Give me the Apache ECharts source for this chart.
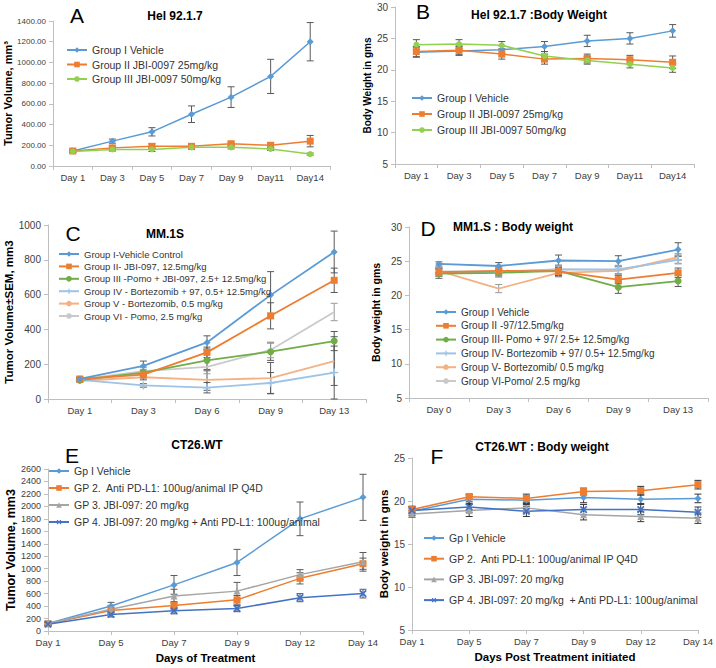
<!DOCTYPE html>
<html><head><meta charset="utf-8">
<script src="https://cdn.jsdelivr.net/npm/echarts@6/dist/echarts.min.js"></script>
<style>html,body{margin:0;padding:0;background:#fff}#c{width:716px;height:668px}</style>
</head><body><div id="c"></div>
<script>
// ---------- Panel A : Hel 92.1.7 tumor volume ----------
const daysA = ['Day 1','Day 3','Day 5','Day 7','Day 9','Day11','Day14'];
const namesA = ['Group I Vehicle','Group II JBI-0097 25mg/kg','Group III JBI-0097 50mg/kg'];
const a1 = [145,240,330,500,665,865,1200];
const a1e = [10,20,40,80,100,165,185];
const a2 = [145,175,190,190,215,200,240];
const a2e = [10,20,25,25,15,25,55];
const a3 = [140,160,160,180,180,165,115];
const a3e = [10,15,20,20,15,15,10];
// ---------- Panel B : Hel 92.1.7 body weight ----------
const daysB = ['Day 1','Day 3','Day 5','Day 7','Day 9','Day11','Day14'];
const b1 = [22.8,23.0,23.2,23.7,24.6,25.0,26.2];
const b1e = [0.8,0.7,0.6,0.8,0.9,0.9,1.0];
const b2 = [22.9,23.1,22.5,21.7,21.8,21.6,21.2];
const b2e = [0.8,0.7,0.8,0.8,0.7,0.7,1.0];
const b3 = [24.0,24.1,23.9,22.2,21.5,20.9,20.3];
const b3e = [0.8,0.7,0.6,0.7,0.6,0.6,0.7];
// ---------- Panel C : MM.1S tumor volume ----------
const daysC = ['Day 1','Day 3','Day 6','Day 9','Day 13'];
const namesC = ['Group I-Vehicle Control','Group II- JBI-097, 12.5mg/kg','Group III -Pomo + JBI-097, 2.5+ 12.5mg/kg','Group IV - Bortezomib + 97, 0.5+ 12.5mg/kg','Group V - Bortezomib, 0.5 mg/kg','Group VI - Pomo, 2.5 mg/kg'];
const c1 = [115,190,325,597,845];  const c1e = [10,28,38,135,120];
const c2 = [115,140,268,478,682];  const c2e = [10,20,30,75,70];
const c3 = [108,152,222,272,333];  const c3e = [8,15,60,50,55];
const c4 = [110,78,65,92,152];     const c4e = [8,10,30,60,152];
const c5 = [105,125,110,120,218];  const c5e = [8,15,60,90,140];
const c6 = [112,160,185,282,500];  const c6e = [8,20,40,45,50];
// ---------- Panel D : MM1.S body weight ----------
const daysD = ['Day 0','Day 3','Day 6','Day 9','Day 13'];
const namesD = ['Group I Vehicle','Group II -97/12.5mg/kg','Group III- Pomo + 97/ 2.5+ 12.5mg/kg','Group IV- Bortezomib + 97/ 0.5+ 12.5mg/kg','Group V- Bortezomib/ 0.5 mg/kg','Group VI-Pomo/ 2.5 mg/kg'];
const d1 = [24.6,24.3,25.1,25.0,26.7];  const d1e = [0.3,0.5,0.8,0.8,1.0];
const d2 = [23.4,23.6,23.5,22.3,23.3];  const d2e = [0.6,0.6,0.6,0.6,0.7];
const d3 = [23.2,23.3,23.6,21.2,22.1];  const d3e = [0.7,0.6,0.8,0.9,0.8];
const d4 = [23.3,23.4,23.8,23.8,25.2];  const d4e = [0.5,0.5,0.6,0.6,0.6];
const d5 = [23.6,21.0,23.3,23.6,25.6];  const d5e = [0.5,0.6,0.6,0.6,0.5];
const d6 = [23.5,23.5,23.8,23.7,25.3];  const d6e = [0.5,0.5,0.6,0.6,0.6];
// ---------- Panel E : CT26.WT tumor volume ----------
const daysE = ['Day 1','Day 5','Day 7','Day 9','Day 12','Day 14'];
const namesE = ['Gp I Vehicle','GP 2.  Anti PD-L1: 100ug/animal IP Q4D','GP 3. JBI-097: 20 mg/kg','GP 4. JBI-097: 20 mg/kg + Anti PD-L1: 100ug/animal'];
const e1 = [120,400,740,1100,1800,2145];  const e1e = [30,60,150,210,270,370];
const e2 = [115,330,410,500,845,1080];    const e2e = [20,50,60,70,90,90];
const e3 = [120,350,560,640,905,1110];    const e3e = [20,60,110,140,80,150];
const e4 = [110,265,325,360,535,600];     const e4e = [20,40,50,50,65,70];
// ---------- Panel F : CT26.WT body weight ----------
const daysF = ['Day 1','Day 5','Day 7','Day 9','Day 12','Day 14'];
const namesF = ['Gp I Vehicle ','GP 2.  Anti PD-L1: 100ug/animal IP Q4D ','GP 3. JBI-097: 20 mg/kg ','GP 4. JBI-097: 20 mg/kg  + Anti PD-L1: 100ug/animal'];
const f1 = [18.8,20.2,20.1,20.4,20.2,20.3];  const f1e = [0.5,0.5,0.5,0.6,0.5,0.5];
const f2 = [19.0,20.5,20.3,21.1,21.2,21.9];  const f2e = [0.4,0.3,0.5,0.4,0.5,0.5];
const f3 = [18.5,18.9,19.2,18.4,18.2,18.0];  const f3e = [0.4,0.7,0.5,0.6,0.6,0.6];
const f4 = [18.9,19.3,18.8,19.0,19.0,18.7];  const f4e = [0.4,0.6,0.6,0.6,0.6,0.6];

const FONT = "'Liberation Sans', Arial, sans-serif";
const AXC = '#BFBFBF';
const LBL = '#404040';
const BLUE = '#5B9BD5', ORANGE = '#ED7D31', LGREEN = '#92D050', GREEN = '#70AD47',
      LBLUE = '#9DC3E6', SALMON = '#F4B183', LGRAY = '#C9C9C9', GRAY = '#A5A5A5', DBLUE = '#4472C4';
const PLUS = 'path://M4,0H6V4H10V6H6V10H4V6H0V4H4Z';

const grids = [
  {left:53, top:21, width:277, height:145},
  {left:395, top:7, width:299, height:157},
  {left:48, top:225, width:318, height:174},
  {left:409, top:227, width:299, height:171},
  {left:48, top:469, width:315, height:162},
  {left:412, top:458, width:287, height:172}
];

function catAxis(gi, data, gap, fs, name, nameGap) {
  return {type:'category', gridIndex:gi, data, boundaryGap:gap,
    axisLine:{lineStyle:{color:AXC}}, axisTick:{show:true, length:4, lineStyle:{color:AXC}},
    axisLabel:{color:LBL, fontSize:fs, fontFamily:FONT, margin:6, interval:0},
    name: name || '', nameLocation:'middle', nameGap: nameGap || 20,
    nameTextStyle:{fontFamily:FONT, fontSize:11.5, fontWeight:'bold', color:'#000'}};
}
function valAxis(gi, min, max, interval, fs, name, nameGap, nfs, fmt) {
  return {type:'value', gridIndex:gi, min, max, interval,
    splitLine:{show:false},
    axisLine:{show:true, lineStyle:{color:AXC}}, axisTick:{show:true, length:4, lineStyle:{color:AXC}},
    axisLabel:{color:LBL, fontSize:fs, fontFamily:FONT, margin:7, formatter: fmt || (v => String(v))},
    name, nameLocation:'middle', nameRotate:90, nameGap,
    nameTextStyle:{fontFamily:FONT, fontSize:nfs, fontWeight:'bold', color:'#000'}};
}
function line(gi, name, data, color, symbol, size, width, rot) {
  return {type:'line', name, xAxisIndex:gi, yAxisIndex:gi, data,
    symbol, symbolSize:size, symbolRotate: rot || 0, showSymbol: symbol !== 'none',
    lineStyle:{color, width}, itemStyle:{color}, z:3, animation:false};
}
function err(gi, vals, errs, color) {
  return {type:'custom', xAxisIndex:gi, yAxisIndex:gi, silent:true, z:2, animation:false,
    encode:{x:0, y:[1,2]},
    data: vals.map((v,i) => [i, v - errs[i], v + errs[i]]),
    renderItem: (params, api) => {
      const x = api.value(0);
      const lo = api.coord([x, api.value(1)]);
      const hi = api.coord([x, api.value(2)]);
      const w = 3.5, st = {stroke: color, lineWidth: 1};
      return {type:'group', children:[
        {type:'line', shape:{x1:lo[0], y1:lo[1], x2:hi[0], y2:hi[1]}, style:st},
        {type:'line', shape:{x1:lo[0]-w, y1:lo[1], x2:lo[0]+w, y2:lo[1]}, style:st},
        {type:'line', shape:{x1:hi[0]-w, y1:hi[1], x2:hi[0]+w, y2:hi[1]}, style:st}
      ]};
    }};
}
function legend(data, left, top, gap, fs, lh) {
  return {orient:'vertical', left, top, data, itemGap:gap, itemWidth:20, itemHeight:7, padding:0,
    textStyle:{fontFamily:FONT, fontSize:fs, color:'#333', lineHeight:lh}, selectedMode:false};
}
const EC = '#5a5a5a';

const series = [
  // A
  err(0,a1,a1e,EC), err(0,a2,a2e,EC), err(0,a3,a3e,EC),
  line(0,namesA[0],a1,BLUE,'diamond',7,1.5),
  line(0,namesA[1],a2,ORANGE,'rect',7,1.5),
  line(0,namesA[2],a3,LGREEN,'circle',6,1.5),
  // B
  err(1,b1,b1e,EC), err(1,b2,b2e,EC), err(1,b3,b3e,EC),
  line(1,namesA[0],b1,BLUE,'diamond',7,1.5),
  line(1,namesA[1],b2,ORANGE,'rect',7,1.5),
  line(1,namesA[2],b3,LGREEN,'circle',6,1.5),
  // C
  err(2,c1,c1e,EC), err(2,c2,c2e,EC), err(2,c3,c3e,EC), err(2,c4,c4e,EC), err(2,c5,c5e,EC), err(2,c6,c6e,'#999'),
  line(2,namesC[5],c6,LGRAY,'none',0,1.8),
  line(2,namesC[4],c5,SALMON,'none',0,1.8),
  line(2,namesC[3],c4,LBLUE,PLUS,8,1.8),
  line(2,namesC[2],c3,GREEN,'circle',7,1.8),
  line(2,namesC[1],c2,ORANGE,'rect',7,1.8),
  line(2,namesC[0],c1,BLUE,'diamond',7,1.8),
  // D
  err(3,d1,d1e,EC), err(3,d2,d2e,EC), err(3,d3,d3e,EC), err(3,d4,d4e,'#999'), err(3,d5,d5e,'#999'), err(3,d6,d6e,'#999'),
  line(3,namesD[5],d6,LGRAY,'none',0,1.8),
  line(3,namesD[4],d5,SALMON,'none',0,1.8),
  line(3,namesD[3],d4,LBLUE,PLUS,8,1.8),
  line(3,namesD[2],d3,GREEN,'circle',7,1.8),
  line(3,namesD[1],d2,ORANGE,'rect',7,1.8),
  line(3,namesD[0],d1,BLUE,'diamond',7,1.8),
  // E
  err(4,e1,e1e,EC), err(4,e2,e2e,EC), err(4,e3,e3e,EC), err(4,e4,e4e,EC),
  line(4,namesE[0],e1,BLUE,'diamond',7,1.5),
  line(4,namesE[1],e2,ORANGE,'rect',7,1.5),
  line(4,namesE[2],e3,GRAY,'triangle',7,1.5),
  line(4,namesE[3],e4,DBLUE,PLUS,9,1.5,45),
  // F
  err(5,f1,f1e,'#333'), err(5,f2,f2e,'#333'), err(5,f3,f3e,'#333'), err(5,f4,f4e,'#333'),
  line(5,namesF[0],f1,BLUE,'diamond',7,1.5),
  line(5,namesF[1],f2,ORANGE,'rect',7,1.5),
  line(5,namesF[2],f3,GRAY,'triangle',7,1.5),
  line(5,namesF[3],f4,DBLUE,PLUS,9,1.5,45)
];

function txt(x, y, text, font, align) {
  return {type:'text', x, y, silent:true,
    style:{text, font, fill:'#000', textAlign: align || 'center', textVerticalAlign:'middle'}};
}
const TB = "bold 12px 'Liberation Sans', Arial, sans-serif";
const TL = "21px 'Liberation Sans', Arial, sans-serif";

const chart = echarts.init(document.getElementById('c'), null, {renderer:'svg', width:716, height:668});
chart.setOption({
  animation:false,
  backgroundColor:'#fff',
  grid: grids,
  xAxis: [
    catAxis(0, daysA, true, 9.5),
    catAxis(1, daysB, true, 9.5),
    catAxis(2, daysC, true, 9.5),
    catAxis(3, daysD, true, 9.5),
    catAxis(4, daysE, false, 9.5, 'Days of Treatment', 21),
    catAxis(5, daysF, false, 9.5, 'Days Post Treatment initiated', 21)
  ],
  yAxis: [
    valAxis(0, 0, 1400, 200, 8, 'Tumor Volume, mm³', 31, 11, v => v.toFixed(2)),
    valAxis(1, 5, 30, 5, 10, 'Body Weight in gms', 17, 10),
    valAxis(2, 0, 1000, 200, 10, 'Tumor Volume±SEM, mm3', 24, 11.5),
    valAxis(3, 5, 30, 5, 10, 'Body weight in gms', 28, 10.5),
    valAxis(4, 0, 2600, 200, 9, 'Tumor Volume, mm3', 31, 12.5),
    valAxis(5, 5, 25, 5, 10, 'Body weight in gms', 20, 11.5)
  ],
  legend: [
    legend(namesA, 66, 44, 2.5, 10.5, 12),
    legend(namesA, 411, 92, 4, 10.5, 12),
    legend(namesC, 58, 248.5, 1.4, 9.5, 11),
    legend(namesD, 435, 306, 1.8, 10, 12),
    legend(namesE, 48, 465, 5, 10.5, 12),
    legend(namesF, 423, 532, 8.7, 10.5, 12)
  ],
  series,
  graphic: [
    txt(77, 15, 'A', TL), txt(175, 16, 'Hel 92.1.7', TB),
    txt(423, 11, 'B', TL), txt(539, 15, 'Hel 92.1.7 :Body Weight', TB),
    txt(73, 233, 'C', TL), txt(165, 234, 'MM.1S', TB),
    txt(428, 228, 'D', TL), txt(513, 227, 'MM1.S : Body weight', TB),
    txt(72, 455, 'E', TL), txt(197, 445, 'CT26.WT', TB),
    txt(437, 456, 'F', TL), txt(542, 447, 'CT26.WT : Body weight', TB)
  ]
});
</script></body></html>
